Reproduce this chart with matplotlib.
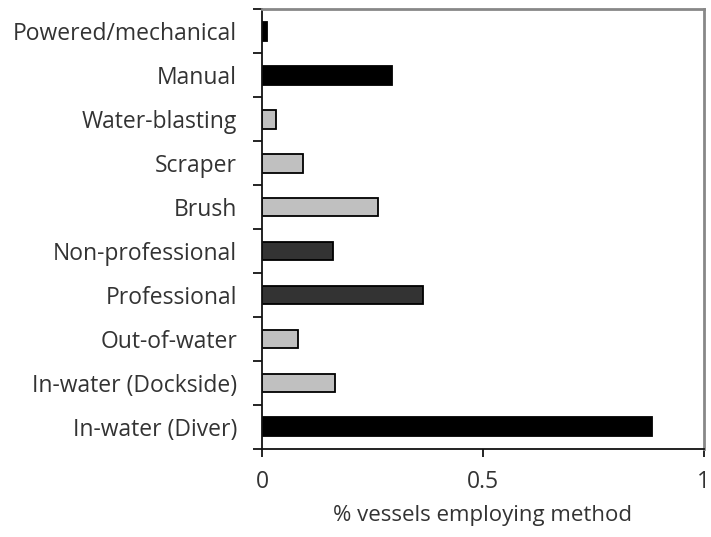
import numpy as np
import matplotlib
matplotlib.use("Agg")
import matplotlib.pyplot as plt

# bottom to top
categories = ["In-water (Diver)", "In-water (Dockside)", "Out-of-water", "Professional",
              "Non-professional", "Brush", "Scraper", "Water-blasting", "Manual",
              "Powered/mechanical"]
values = [0.882, 0.165, 0.082, 0.364, 0.16, 0.262, 0.093, 0.032, 0.294, 0.011]
fills = ["#000000", "#c0c0c0", "#c0c0c0", "#333333", "#333333",
         "#c0c0c0", "#c0c0c0", "#c0c0c0", "#000000", "#000000"]
xticks = [0, 0.5, 1]
xticklabels = ["0", "0.5", "1"]

plt.rcParams["font.family"] = ["Open Sans", "DejaVu Sans"]

fig = plt.figure(figsize=(7.11, 5.37), dpi=100)
ax = fig.add_axes([0.3685, 0.164, 0.6215, 0.819])

y = np.arange(len(categories))
ax.barh(y, values, height=0.43, color=fills, edgecolor="black", linewidth=1.3)

ax.set_xlim(0, 1)
ax.set_ylim(-0.5, len(categories) - 0.5)
ax.set_xticks(xticks)
ax.set_xticklabels(xticklabels, fontsize=16.5, color="#333333")
ax.set_yticks(y)
ax.set_yticklabels(categories, fontsize=16.5, color="#333333")
ax.set_yticks(np.arange(len(categories) + 1) - 0.5, minor=True)
ax.tick_params(axis="y", which="major", length=0, pad=18)
ax.tick_params(axis="y", which="minor", length=6.5, width=1.2, direction="out")
ax.tick_params(axis="x", length=6, width=1.2, direction="out", pad=9)
ax.set_xlabel("% vessels employing method", fontsize=16, color="#333333", labelpad=8)

for s in ["left", "bottom"]:
    ax.spines[s].set_color("#111111")
    ax.spines[s].set_linewidth(1.3)
for s in ["top", "right"]:
    ax.spines[s].set_color("#888888")
    ax.spines[s].set_linewidth(2)

fig.savefig("out.png", dpi=100)
